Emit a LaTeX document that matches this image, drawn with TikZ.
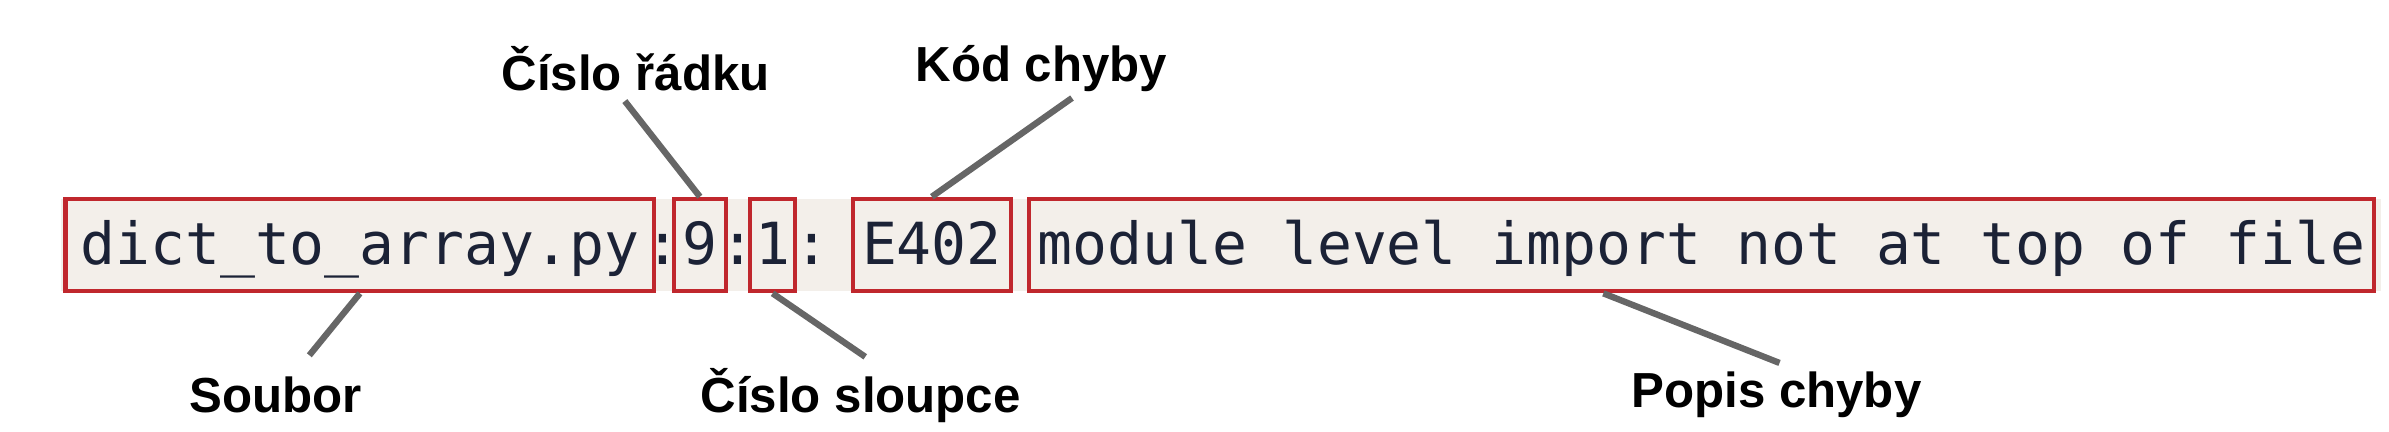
\documentclass[tikz,border=0pt]{standalone}
\usepackage{fontspec}
\setmainfont{Liberation Sans}
\setmonofont{DejaVu Sans Mono}
\definecolor{boxred}{HTML}{C0272D}
\definecolor{strip}{HTML}{F3EFEA}
\definecolor{codeink}{HTML}{1B2236}
\definecolor{leader}{HTML}{666666}
\tikzset{
  part/.style={draw=boxred, line width=1.3pt, rectangle, minimum height=0.92cm,
    inner sep=0pt, text height=0.5cm, text depth=0.12cm, text=codeink,
    font=\ttfamily\fontsize{16.5}{16.5}\selectfont},
  sep/.style={inner sep=0pt, text height=0.5cm, text depth=0.12cm, text=codeink,
    font=\ttfamily\fontsize{16.5}{16.5}\selectfont},
  label/.style={font=\bfseries\fontsize{14}{14}\selectfont, inner sep=0pt},
  lead/.style={draw=leader, line width=1.8pt}
}
\begin{document}
\begin{tikzpicture}[x=0.01531cm, y=-0.01531cm]
    \useasboundingbox (0,0) rectangle (1560,282);
    \fill[strip] (40,130) rectangle (1555,190);

    \node[part, minimum width=5.88cm] (file) at (235,160) {dict\_to\_array.py};
    \node[sep] (c1) at (433,160) {:};
    \node[part, minimum width=0.52cm] (line) at (457,160) {9};
    \node[sep] (c2) at (482,160) {:};
    \node[part, minimum width=0.45cm] (col) at (504.5,160) {1};
    \node[sep] (c3) at (530,160) {:};
    \node[part, minimum width=1.58cm] (code) at (608.5,160) {E402};
    \node[part, minimum width=13.44cm] (desc) at (1111,160) {module level import not at top of file};

    \node[label] (lineLbl) at (415,45) {Číslo řádku};
    \node[label] (codeLbl) at (680,45) {Kód chyby};
    \node[label] (fileLbl) at (180,258) {Soubor};
    \node[label] (colLbl) at (562,258) {Číslo sloupce};
    \node[label] (descLbl) at (1160,258) {Popis chyby};

    \coordinate (lineEnd) at (408,66);
    \coordinate (codeEnd) at (700,64);
    \coordinate (fileEnd) at (202,232);
    \coordinate (colEnd) at (565,233);
    \coordinate (descEnd) at (1162,237);

    \draw[lead] (lineEnd) -- (line.north);
    \draw[lead] (codeEnd) -- (code.north);
    \draw[lead] (fileEnd) -- (file.south);
    \draw[lead] (colEnd) -- (col.south);
    \draw[lead] (descEnd) -- ([xshift=-0.98cm]desc.south);
\end{tikzpicture}
\end{document}
